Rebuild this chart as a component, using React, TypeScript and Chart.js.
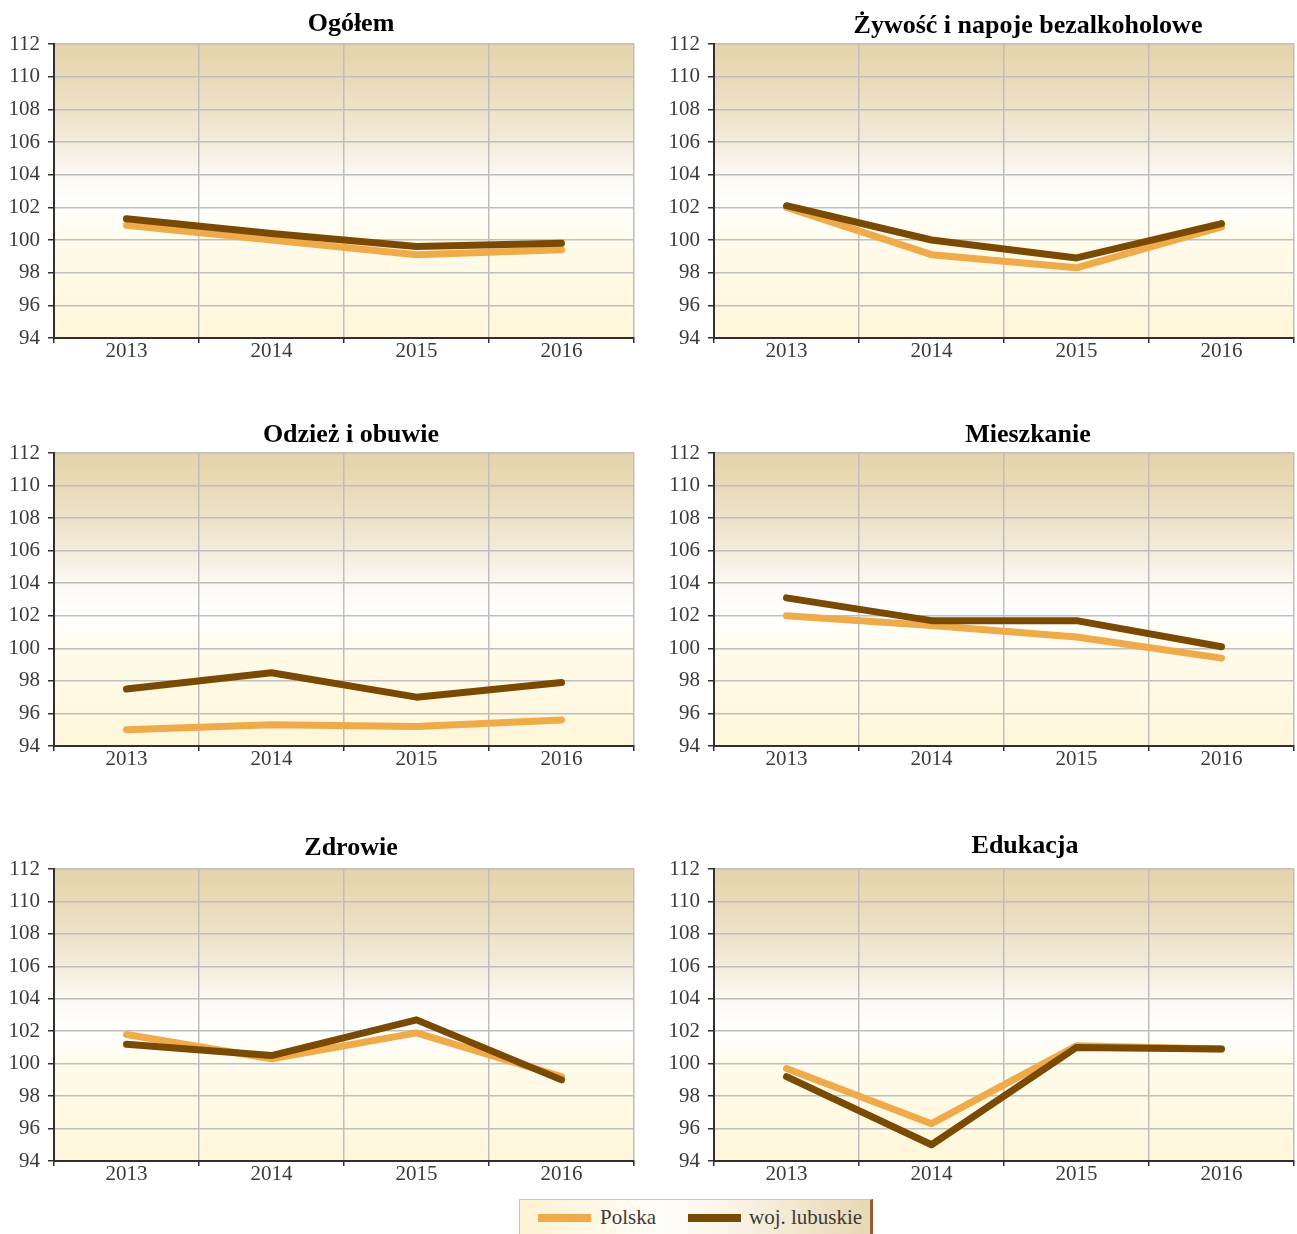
import React, { useEffect, useRef } from "react";
import { Chart, registerables } from "chart.js";

Chart.register(...registerables);

const YEARS = ["2013", "2014", "2015", "2016"];
const Y_MIN = 94;
const Y_MAX = 112;
const Y_STEP = 2;

const SERIES_NAMES = ["Polska", "woj. lubuskie"];

const TITLE_OGOLEM = "Ogółem";
const TITLE_ZYWNOSC = "Żywość i napoje bezalkoholowe";
const TITLE_ODZIEZ = "Odzież i obuwie";
const TITLE_MIESZKANIE = "Mieszkanie";
const TITLE_ZDROWIE = "Zdrowie";
const TITLE_EDUKACJA = "Edukacja";

const POLSKA_OGOLEM = [100.9, 100.0, 99.1, 99.4];
const LUBUSKIE_OGOLEM = [101.3, 100.4, 99.6, 99.8];
const POLSKA_ZYWNOSC = [102.0, 99.1, 98.3, 100.8];
const LUBUSKIE_ZYWNOSC = [102.1, 100.0, 98.9, 101.0];
const POLSKA_ODZIEZ = [95.0, 95.3, 95.2, 95.6];
const LUBUSKIE_ODZIEZ = [97.5, 98.5, 97.0, 97.9];
const POLSKA_MIESZKANIE = [102.0, 101.4, 100.7, 99.4];
const LUBUSKIE_MIESZKANIE = [103.1, 101.7, 101.7, 100.1];
const POLSKA_ZDROWIE = [101.8, 100.3, 101.9, 99.2];
const LUBUSKIE_ZDROWIE = [101.2, 100.5, 102.7, 99.0];
const POLSKA_EDUKACJA = [99.7, 96.3, 101.1, 100.9];
const LUBUSKIE_EDUKACJA = [99.2, 95.0, 101.0, 100.9];

const PANELS = [
  { title: TITLE_OGOLEM, polska: POLSKA_OGOLEM, lubuskie: LUBUSKIE_OGOLEM },
  { title: TITLE_ZYWNOSC, polska: POLSKA_ZYWNOSC, lubuskie: LUBUSKIE_ZYWNOSC },
  { title: TITLE_ODZIEZ, polska: POLSKA_ODZIEZ, lubuskie: LUBUSKIE_ODZIEZ },
  { title: TITLE_MIESZKANIE, polska: POLSKA_MIESZKANIE, lubuskie: LUBUSKIE_MIESZKANIE },
  { title: TITLE_ZDROWIE, polska: POLSKA_ZDROWIE, lubuskie: LUBUSKIE_ZDROWIE },
  { title: TITLE_EDUKACJA, polska: POLSKA_EDUKACJA, lubuskie: LUBUSKIE_EDUKACJA },
];

// layout (page coordinates)
const COLS = [
  { left: 0, width: 648, axisW: 54, padR: 14 },
  { left: 648, width: 649, axisW: 66, padR: 3 },
];
const ROWS = [
  { plotTop: 44, plotBottom: 338 },
  { plotTop: 453, plotBottom: 746 },
  { plotTop: 869, plotBottom: 1161 },
];
const TITLE_POS = [
  { x: 351, base: 31 },
  { x: 1028, base: 33 },
  { x: 351, base: 442 },
  { x: 1028, base: 442 },
  { x: 351, base: 855 },
  { x: 1025, base: 853 },
];
const PAD_TOP = 44;
const XAXIS_H = 42;

const COLOR_POLSKA = "#EFAB4A";
const COLOR_LUBUSKIE = "#7A4A02";
const GRID = "#BEBEBE";
const AXIS = "#303030";
const TEXT = "#3a3a3a";
const FONT = "'Liberation Serif', 'Times New Roman', serif";

const bgPlugin = {
  id: "panelBg",
  beforeDraw(chart: any) {
    const a = chart.chartArea;
    if (!a) return;
    const ctx = chart.ctx;
    const g = ctx.createLinearGradient(0, a.top, 0, a.bottom);
    g.addColorStop(0, "#E4D3AA");
    g.addColorStop(0.12, "#E9DBB9");
    g.addColorStop(0.3, "#F1E8D5");
    g.addColorStop(0.45, "#FBF9F4");
    g.addColorStop(0.55, "#FFFFFF");
    g.addColorStop(0.68, "#FFFBEA");
    g.addColorStop(1, "#FFF6DA");
    ctx.save();
    ctx.fillStyle = g;
    ctx.fillRect(a.left, a.top, a.right - a.left, a.bottom - a.top);
    ctx.restore();
  },
};

const titlePlugin = {
  id: "panelTitle",
  afterDraw(chart: any, _args: any, opts: any) {
    if (!opts || !opts.text) return;
    const ctx = chart.ctx;
    ctx.save();
    ctx.font = `bold 26px ${FONT}`;
    ctx.fillStyle = "#000";
    ctx.textAlign = "center";
    ctx.textBaseline = "alphabetic";
    ctx.fillText(opts.text, opts.x, opts.y);
    ctx.restore();
  },
};

function Panel({ index }: { index: number }) {
  const ref = useRef<HTMLCanvasElement | null>(null);
  const panel = PANELS[index];
  const col = COLS[index % 2];
  const row = ROWS[Math.floor(index / 2)];
  const top = row.plotTop - PAD_TOP;
  const height = row.plotBottom + XAXIS_H - top;
  const tp = TITLE_POS[index];

  useEffect(() => {
    if (!ref.current) return;
    const chart = new Chart(ref.current, {
      type: "line",
      data: {
        labels: YEARS,
        datasets: [
          {
            label: SERIES_NAMES[0],
            data: panel.polska,
            borderColor: COLOR_POLSKA,
            backgroundColor: COLOR_POLSKA,
            borderWidth: 7,
            borderCapStyle: "round",
            borderJoinStyle: "round",
            pointRadius: 0,
            tension: 0,
            order: 2,
          },
          {
            label: SERIES_NAMES[1],
            data: panel.lubuskie,
            borderColor: COLOR_LUBUSKIE,
            backgroundColor: COLOR_LUBUSKIE,
            borderWidth: 7,
            borderCapStyle: "round",
            borderJoinStyle: "round",
            pointRadius: 0,
            tension: 0,
            order: 1,
          },
        ],
      },
      options: {
        responsive: false,
        animation: false,
        devicePixelRatio: 1,
        layout: { padding: { top: PAD_TOP, left: 0, right: col.padR, bottom: 0 } },
        plugins: {
          legend: { display: false },
          tooltip: { enabled: false },
          title: { display: false },
          panelTitle: { text: panel.title, x: tp.x - col.left, y: tp.base - top },
        } as any,
        scales: {
          x: {
            type: "category",
            offset: true,
            grid: {
              offset: true,
              color: GRID,
              lineWidth: 1.5,
              tickColor: AXIS,
              tickLength: 5,
              drawOnChartArea: true,
            },
            border: { color: AXIS, width: 2 },
            ticks: {
              color: TEXT,
              font: { family: FONT, size: 21 },
              padding: -4,
              maxRotation: 0,
              autoSkip: false,
            },
            afterFit(s: any) {
              s.height = XAXIS_H;
            },
          },
          y: {
            min: Y_MIN,
            max: Y_MAX,
            grid: {
              color: GRID,
              lineWidth: 1.5,
              tickColor: AXIS,
              tickLength: 6,
            },
            border: { color: AXIS, width: 2 },
            ticks: {
              stepSize: Y_STEP,
              color: TEXT,
              font: { family: FONT, size: 21 },
              padding: 8,
            },
            afterFit(s: any) {
              s.width = col.axisW;
            },
          },
        },
      },
      plugins: [bgPlugin, titlePlugin],
    } as any);
    return () => chart.destroy();
  }, [index]);

  return (
    <canvas
      ref={ref}
      width={col.width}
      height={height}
      style={{ position: "absolute", left: col.left, top, width: col.width, height }}
    />
  );
}

function Legend() {
  const swatch = (left: number, color: string) => (
    <div
      style={{
        position: "absolute",
        left,
        top: 14,
        width: 53,
        height: 8,
        background: color,
      }}
    />
  );
  const label = (left: number, text: string) => (
    <span
      style={{
        position: "absolute",
        left,
        top: 4,
        fontFamily: FONT,
        fontSize: 21,
        color: TEXT,
        lineHeight: "26px",
        whiteSpace: "nowrap",
      }}
    >
      {text}
    </span>
  );
  return (
    <div
      style={{
        position: "absolute",
        left: 519,
        top: 1199,
        width: 354,
        height: 40,
        boxSizing: "border-box",
        background: "linear-gradient(to right, #FFF2D2 0%, #FFFDF8 40%, #FBF5E8 60%, #E8D7B2 100%)",
        border: "1px solid #DDBFA8",
        borderRight: "3px solid #9A5A3A",
      }}
    >
      {swatch(18, COLOR_POLSKA)}
      {label(80, SERIES_NAMES[0])}
      {swatch(168, COLOR_LUBUSKIE)}
      {label(229, SERIES_NAMES[1])}
    </div>
  );
}

export default function App() {
  useEffect(() => {
    document.body.style.margin = "0";
  }, []);
  return (
    <div
      style={{
        position: "relative",
        width: 1297,
        height: 1234,
        overflow: "hidden",
        background: "#fff",
      }}
    >
      {PANELS.map((_, i) => (
        <Panel key={i} index={i} />
      ))}
      <Legend />
    </div>
  );
}
